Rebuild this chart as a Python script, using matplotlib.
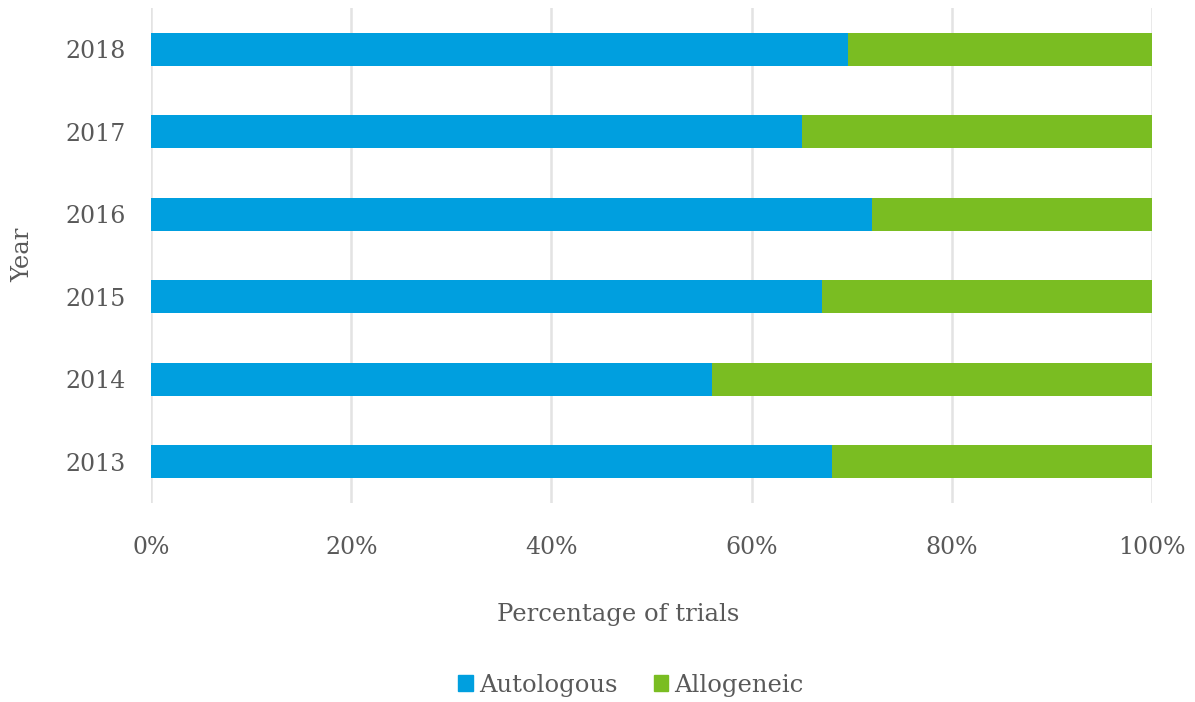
import matplotlib
matplotlib.use("Agg")
import matplotlib.pyplot as plt
from matplotlib.patches import Patch
import numpy as np

# share of trials per year (percent)
years = ["2013", "2014", "2015", "2016", "2017", "2018"]
autologous = [68, 56, 67, 72, 65, 69.6]
allogeneic = [100 - v for v in autologous]

blue = "#009FDF"
green = "#7ABD22"
grey = "#595959"

plt.rcParams['font.family'] = ['DejaVu Serif']

fig = plt.figure(figsize=(11.95, 7.02), dpi=100)
ax = fig.add_axes([0.1264, 0.2835, 0.8376, 0.7051])

y = np.arange(len(years))
ax.barh(y, autologous, height=0.4, color=blue, label="Autologous", zorder=3)
ax.barh(y, allogeneic, left=autologous, height=0.4, color=green,
        label="Allogeneic", zorder=3)

ax.set_xlim(0, 100)
ax.set_ylim(-0.5, len(years) - 0.5)
ax.set_xticks(np.arange(0, 101, 20))
ax.set_xticklabels(["{}%".format(t) for t in range(0, 101, 20)])
ax.set_yticks(y)
ax.set_yticklabels(years)
ax.tick_params(length=0, labelsize=17, colors=grey)
ax.tick_params(axis='x', pad=24)
ax.tick_params(axis='y', pad=18)

ax.grid(axis='x', color="#e3e3e3", linewidth=1.8, zorder=0)
for s in ax.spines.values():
    s.set_visible(False)

# axis titles
fig.text(618 / 1195, 1 - 614 / 702, "Percentage of trials", fontsize=17.5,
         color=grey, ha='center', va='center')
fig.text(23 / 1195, 1 - 255 / 702, "Year", fontsize=17.5, color=grey,
         rotation=90, ha='center', va='center')

handles = [Patch(color=blue, label="Autologous"), Patch(color=green, label="Allogeneic")]
fig.legend(handles=handles, loc='center', bbox_to_anchor=(0.528, 0.024),
           ncol=2, frameon=False, fontsize=17.5, labelcolor=grey,
           handlelength=0.6, handleheight=0.6, handletextpad=0.25,
           columnspacing=1.5)

fig.savefig("out.png", dpi=100)
